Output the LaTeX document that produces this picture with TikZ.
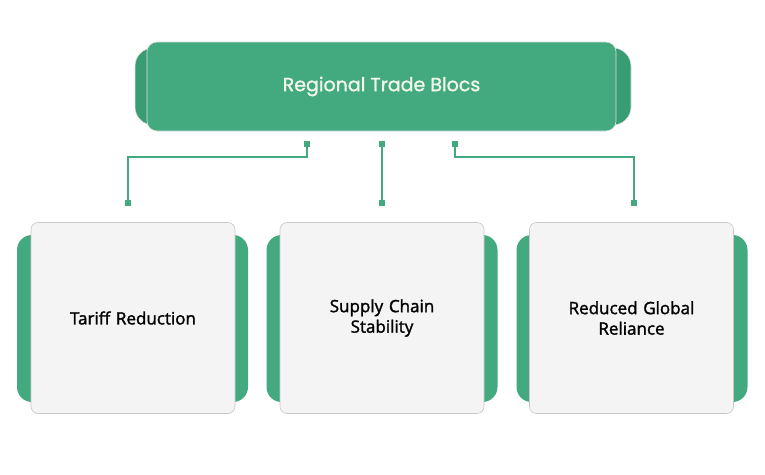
\documentclass[tikz,border=0pt]{standalone}
\usepackage{fontspec}
\setmainfont{Open Sans}[FakeBold=1.6]
\newfontfamily\titlefont{Poppins}[FakeBold=1.2]
\usetikzlibrary{positioning}
\definecolor{blocgreen}{RGB}{67,170,128}
\definecolor{blocdark}{RGB}{57,157,115}
\definecolor{cardwhite}{RGB}{244,244,244}
\definecolor{rimgray}{RGB}{200,200,200}
\definecolor{titlecream}{RGB}{242,247,232}
\tikzstyle{topback} = [fill=blocdark, draw=rimgray!60, line width=0.6, rounded corners=18, minimum width=496, minimum height=77, inner sep=0]
\tikzstyle{topbox} = [fill=blocgreen, draw=rimgray!60, line width=0.6, rounded corners=10, minimum width=469, minimum height=89, inner sep=0, text=titlecream, font=\titlefont\fontsize{19}{23}\selectfont]
\tikzstyle{sideback} = [fill=blocgreen, rounded corners=15, minimum width=231, minimum height=167, inner sep=0]
\tikzstyle{card} = [fill=cardwhite, draw=rimgray, line width=0.6, rounded corners=7, minimum width=204, minimum height=191, inner sep=0, align=center, text width=160, font=\fontsize{17}{20.5}\selectfont]
\tikzstyle{link} = [blocgreen, line width=1.4]
\tikzstyle{dot} = [fill=blocgreen, minimum size=6, inner sep=0]

\begin{document}
\begin{tikzpicture}[x=1pt, y=-1pt]
		\useasboundingbox (0,0) rectangle (765,474);
		
		% Title
		\node[topback] (titleback) at (383,86.5) {};
		\node[topbox] (title) at (381.5,86.5) {Regional Trade Blocs};
		
		% Cards
		\node[sideback] (back1) at (132.5,318.5) {};
		\node[sideback] (back2) at (382,318.5) {};
		\node[sideback] (back3) at (632,318.5) {};
		\node[card] (tariff) at (133,318) {Tariff Reduction};
		\node[card] (supply) at (382,318) {Supply Chain\\Stability};
		\node[card] (reliance) at (631.5,318) {Reduced Global\\Reliance};
		
		% Connector ends
		\node[dot] (s1) at (307,144) {};
		\node[dot] (s2) at (382,144) {};
		\node[dot] (s3) at (455,144) {};
		\node[dot] (e1) at (128,203) {};
		\node[dot] (e2) at (382,203) {};
		\node[dot] (e3) at (634,203) {};
		
		% Links
		\draw[link] (s1.center) |- (145,157) -| (e1.center);
		\draw[link] (s2.center) -- (e2.center);
		\draw[link] (s3.center) |- (600,157) -| (e3.center);
	\end{tikzpicture}
\end{document}
